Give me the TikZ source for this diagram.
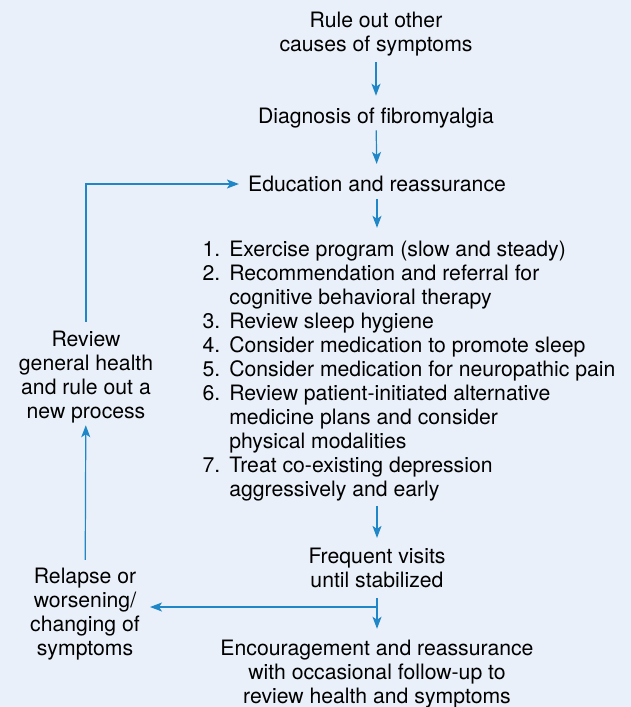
\documentclass[tikz,border=0pt]{standalone}
\usepackage{fontspec}
\setmainfont{TeX Gyre Heros}
\usepackage{xcolor}
\usetikzlibrary{arrows.meta, positioning}

\definecolor{bgblue}{HTML}{E9F0F9}
\definecolor{flowblue}{HTML}{1F87C7}

\begin{document}
\begin{tikzpicture}[
  x=1pt, y=1pt,
  font=\fontsize{21.2}{24}\selectfont,
  on grid,
  stage/.style={inner sep=2pt, align=center, text=black},
  arrow/.style={draw=flowblue, line width=1.2pt, -{Stealth[length=12pt, width=9pt, inset=3pt]}},
  link/.style={draw=flowblue, line width=1.2pt}
]
\fill[bgblue] (0,0) rectangle (631,-707);
\useasboundingbox (0,0) rectangle (631,-707);

\node (rule) [stage] at (376,-34) {Rule out other\\causes of symptoms};
\node (diag) [stage, below=84 of rule] {Diagnosis of fibromyalgia};
\node (edu) [stage, below=66 of diag, xshift=1] {Education and reassurance};
\node (plan) [stage, below=188 of edu, xshift=32, align=left] {%
  \begin{tabular}{@{}r@{\hspace{9pt}}l@{}}
  1. & Exercise program (slow and steady)\\
  2. & Recommendation and referral for\\
     & cognitive behavioral therapy\\
  3. & Review sleep hygiene\\
  4. & Consider medication to promote sleep\\
  5. & Consider medication for neuropathic pain\\
  6. & Review patient-initiated alternative\\
     & medicine plans and consider\\
     & physical modalities\\
  7. & Treat co-existing depression\\
     & aggressively and early
  \end{tabular}};
\node (freq) [stage, below=384 of edu] {Frequent visits\\until stabilized};
\node (enc) [stage, below=106 of freq] {Encouragement and reassurance\\with occasional follow-up to\\review health and symptoms};
\node (relapse) [stage, below left=46 and 292 of freq] {Relapse or\\worsening/\\changing of\\symptoms};
\node (review) [stage, above=237 of relapse, xshift=1] {Review\\general health\\and rule out a\\new process};
\coordinate (split) at ([yshift=-39]freq.center);

\draw [arrow, shorten <=4pt, shorten >=10pt] (rule) -- (diag);
\draw [arrow, shorten >=10pt] (diag) -- (edu);
\draw [arrow, shorten <=5pt, shorten >=10pt] (edu.south -| freq) -- (plan.north -| freq);
\draw [arrow, shorten >=8pt] (plan.south -| freq) -- (freq);
\draw [arrow, shorten <=8pt, shorten >=9pt] (freq) -- (enc);
\draw [arrow, shorten >=8pt] (split) -- (relapse.east |- split);
\draw [arrow, shorten <=6pt] (relapse) -- (review);
\draw [arrow, shorten <=7pt, shorten >=7pt] (review) |- (edu);
\end{tikzpicture}
\end{document}
